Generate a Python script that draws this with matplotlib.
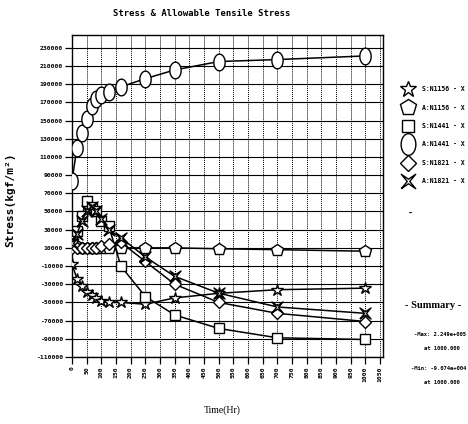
import matplotlib
matplotlib.use("Agg")
import matplotlib.pyplot as plt
from matplotlib.path import Path
import numpy as np

# ---------------- data ----------------
time_hr = [0, 17, 33, 50, 67, 83, 100, 125, 167, 250, 350, 500, 700, 1000]
s_n1156 = [-8000, -24000, -32000, -38000, -42000, -45000, -48000, -50000, -50000, -52000, -45000, -40000, -36000, -34300]
a_n1156 = [18000, 12000, 10000, 10000, 10000, 10000, 10000, 10000, 10000, 10000, 10000, 9000, 8000, 6300]
s_n1441 = [20000, 28500, 45000, 61600, 55000, 50600, 39500, 34000, -10300, -43500, -63800, -78600, -88900, -90740]
a_n1441 = [84000, 120000, 136000, 152000, 166000, 174000, 178000, 181000, 187000, 196000, 205600, 214800, 217000, 221000]
s_n1821 = [10000, 10000, 10000, 10000, 10000, 10000, 12000, 14000, 16000, -5000, -30000, -50000, -62000, -71000]
a_n1821 = [15000, 25000, 40000, 50000, 55000, 50000, 42000, 30000, 21000, 0, -21400, -39800, -55000, -62000]

labels = ["S:N1156 - X", "A:N1156 - X", "S:N1441 - X", "A:N1441 - X", "S:N1821 - X", "A:N1821 - X"]
x_ticks = list(range(0, 1051, 50))
y_ticks = list(range(-110000, 230001, 20000))

# ---------------- markers ----------------
th = np.linspace(0, 2 * np.pi, 40)
ellipse = Path(np.column_stack([0.68 * np.cos(th), np.sin(th)]))
xa = 0.35
xcross = Path([(-1, -1), (-xa * 0.5, 0), (-1, 1), (0, xa * 0.9), (1, 1), (xa * 0.5, 0), (1, -1), (0, -xa * 0.9), (-1, -1)])

series = [
    (s_n1156, "*", 9),
    (a_n1156, "p", 9),
    (s_n1441, "s", 7),
    (a_n1441, ellipse, 12),
    (s_n1821, "D", 6),
    (a_n1821, xcross, 8),
]

W, H = 468, 424
fig = plt.figure(figsize=(W / 100, H / 100), dpi=100)
ax = fig.add_axes([72 / W, 1 - 357 / H, (383 - 72) / W, (357 - 35) / H])

handles = []
for vals, mk, ms in series:
    (ln,) = ax.plot(time_hr, vals, color="black", lw=1.1, marker=mk, markersize=ms,
                    markerfacecolor="white", markeredgecolor="black", markeredgewidth=1.0, zorder=3)
    handles.append(ln)

ax.set_xlim(0, 1060)
ax.set_ylim(-110000, 244000)
ax.set_xticks(x_ticks)
ax.set_yticks(y_ticks)
mono = "DejaVu Sans Mono"
ax.set_xticklabels([str(v) for v in x_ticks], rotation=90, fontsize=4.6, family=mono, fontweight="bold")
ax.set_yticklabels([str(v) for v in y_ticks], fontsize=4.6, family=mono, fontweight="bold")
ax.tick_params(axis="both", direction="out", length=5, width=0.9, pad=1.5)
ax.grid(axis="y", color="black", lw=0.8, ls="-")
ax.grid(axis="x", color="black", lw=0.7, ls=(0, (1, 1)))
ax.set_axisbelow(True)
for sp in ax.spines.values():
    sp.set_linewidth(1.0)

fig.text(202 / W, 1 - 14 / H, "Stress & Allowable Tensile Stress", ha="center", va="center",
         family=mono, fontweight="bold", fontsize=6.4)
fig.text(10 / W, 1 - 200 / H, "Stress(kgf/m²)", rotation=90, ha="center", va="center",
         family=mono, fontweight="bold", fontsize=8)
fig.text(222 / W, 1 - 410 / H, "Time(Hr)", ha="center", va="center",
         family="Liberation Serif", fontsize=7)

leg = ax.legend(handles, labels, loc="upper left", bbox_to_anchor=(401 / W, 1 - 83 / H),
                bbox_transform=fig.transFigure, frameon=False, prop={"family": mono, "weight": "bold", "size": 4.7},
                handlelength=1.0, handletextpad=1.7, labelspacing=1.9, numpoints=1, borderpad=0)
for lh, (_, _, ms) in zip(leg.legend_handles, series):
    lh.set_linestyle("none")
    lh.set_markersize(ms * 1.3)

small = dict(family=mono, fontweight="bold", fontsize=4.0)
fig.text(410 / W, 1 - 213 / H, "-", ha="center", va="center", family=mono, fontweight="bold", fontsize=6)
fig.text(433 / W, 1 - 305 / H, "- Summary -", ha="center", va="center", family="Liberation Serif",
         fontweight="bold", fontsize=7.5)
fig.text(466 / W, 1 - 335 / H, "-Max: 2.249e+005", ha="right", va="center", **small)
fig.text(442 / W, 1 - 348 / H, "at 1000.000", ha="center", va="center", **small)
fig.text(466 / W, 1 - 368 / H, "-Min: -9.074e+004", ha="right", va="center", **small)
fig.text(442 / W, 1 - 382 / H, "at 1000.000", ha="center", va="center", **small)

fig.savefig("out.png", dpi=100)
